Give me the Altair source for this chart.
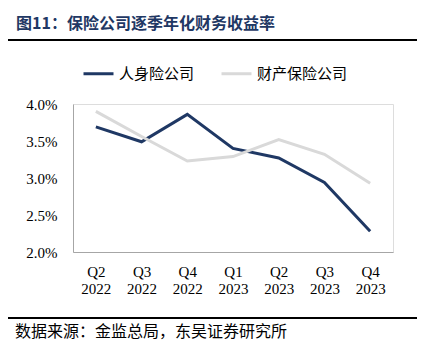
import altair as alt
import pandas as pd

quarters = ["Q2 2022", "Q3 2022", "Q4 2022", "Q1 2023", "Q2 2023", "Q3 2023", "Q4 2023"]
life = [3.69, 3.49, 3.86, 3.40, 3.27, 2.94, 2.28]
property_ins = [3.90, 3.56, 3.23, 3.29, 3.52, 3.32, 2.93]
series_names = ["人身险公司", "财产保险公司"]
series_colors = ["#1f3864", "#d9d9d9"]
y_ticks = [2.0, 2.5, 3.0, 3.5, 4.0]
title_text = "图11：保险公司逐季年化财务收益率"
source_text = "数据来源：金监总局，东吴证券研究所"

rows = []
for q, a, b in zip(quarters, life, property_ins):
    rows.append({"q": q, "v": a, "s": series_names[0]})
    rows.append({"q": q, "v": b, "s": series_names[1]})
df = pd.DataFrame(rows)

cjk = "Noto Sans CJK SC"
serif = "Liberation Serif"

lines = alt.Chart(df).mark_line(strokeWidth=3).encode(
    x=alt.X("q:N", sort=quarters, title=None,
            scale=alt.Scale(type="point", padding=0.5),
            axis=alt.Axis(labelExpr="split(datum.value, ' ')", labelAngle=0,
                          labelFont=serif, labelFontSize=15, labelColor="#000000",
                          labelLineHeight=17, labelPadding=12, ticks=False,
                          domainColor="#a6a6a6", domainWidth=1, grid=False,
                          labelBaseline="top")),
    y=alt.Y("v:Q", title=None,
            scale=alt.Scale(domain=[2.0, 4.0], nice=False, zero=False),
            axis=alt.Axis(values=y_ticks, labelExpr="format(datum.value, '.1f') + '%'",
                          labelFont=serif, labelFontSize=15, labelColor="#000000",
                          labelPadding=16, ticks=False, grid=False,
                          domainColor="#a6a6a6", domainWidth=1)),
    color=alt.Color("s:N", sort=series_names,
                    scale=alt.Scale(domain=series_names, range=series_colors),
                    legend=alt.Legend(title=None, orient="none", direction="horizontal",
                                      legendX=9, legendY=-47,
                                      symbolType="stroke", symbolSize=900,
                                      symbolStrokeWidth=3, labelFont=cjk,
                                      labelFontSize=15, labelColor="#000000",
                                      labelOffset=4, columnPadding=20,
                                      symbolOffset=0)),
)

title = alt.Chart(pd.DataFrame({"t": [title_text]})).mark_text(
    align="left", baseline="middle", font=cjk, fontSize=16, fontWeight="bold",
    color="#1f3864").encode(x=alt.value(-57), y=alt.value(-80), text="t:N")

source = alt.Chart(pd.DataFrame({"t": [source_text]})).mark_text(
    align="left", baseline="middle", font=cjk, fontSize=16,
    color="#000000").encode(x=alt.value(-58), y=alt.value(228), text="t:N")

top_rule = alt.Chart(pd.DataFrame({"a": [0]})).mark_rule(
    color="#000000", strokeWidth=2).encode(
    x=alt.value(-65), x2=alt.value(344), y=alt.value(-64))

bottom_rule = alt.Chart(pd.DataFrame({"a": [0]})).mark_rule(
    color="#000000", strokeWidth=2).encode(
    x=alt.value(-65), x2=alt.value(344), y=alt.value(214))

chart = alt.layer(lines, title, source, top_rule, bottom_rule).properties(
    width=320, height=148,
    autosize=alt.AutoSizeParams(type="none"),
    padding={"left": 65, "top": 96, "right": 31, "bottom": 95},
).configure_view(stroke=None).configure(background="#ffffff")

chart.save("out.html", embed_options={"renderer": "svg", "actions": False})
